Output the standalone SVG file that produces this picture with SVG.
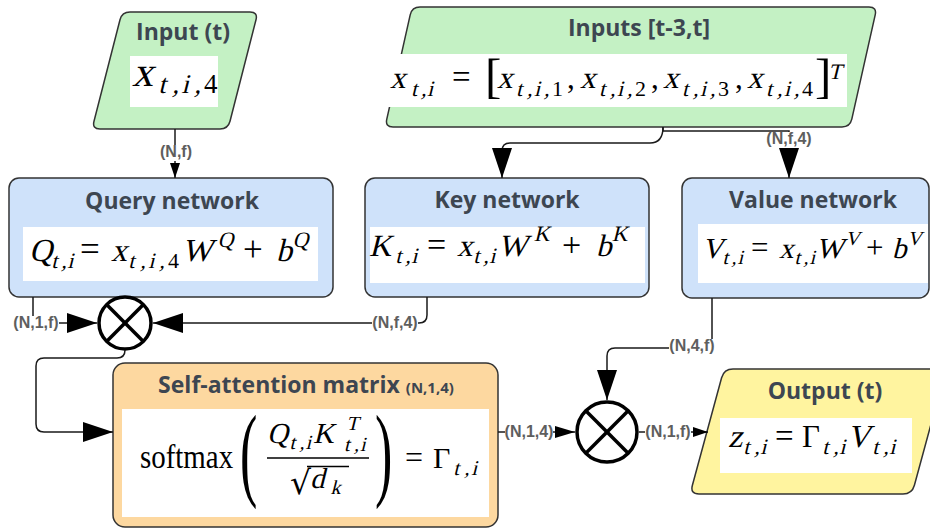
<svg xmlns="http://www.w3.org/2000/svg" width="930" height="529" viewBox="0 0 930 529">
  <style>
    .ttl{font-family:"Open Sans","Liberation Sans",Arial,sans-serif;font-weight:bold;font-size:23px;fill:#3d4651;text-anchor:middle}
    .lbl{font-family:"Liberation Sans",Arial,sans-serif;font-weight:bold;font-size:16px;fill:#5e5e5e;text-anchor:middle}
    .lbg{fill:#fff}
    .m{font-family:"Liberation Serif","DejaVu Serif","Times New Roman",serif;fill:#000}
    .in{fill:#c4f1c4;stroke:#333;stroke-width:1.5}
    .net{fill:#cfe2fa;stroke:#333;stroke-width:1.5}
    .att{fill:#fdd8a0;stroke:#333;stroke-width:1.5}
    .out{fill:#fff49f;stroke:#333;stroke-width:1.5}
    .wb{fill:#fff}
    .edge{fill:none;stroke:#1a1a1a;stroke-width:1.5}
    .op circle{fill:#fff;stroke:#000;stroke-width:3.5}
    .op line{stroke:#000;stroke-width:3.5}
  </style>
  <defs>
    <marker id="ah-big" markerUnits="userSpaceOnUse" markerWidth="30" markerHeight="20" refX="30" refY="10" orient="auto">
      <path d="M0,0 L30,10 L0,20 Z" fill="#000"/>
    </marker>
    <marker id="ah-mid" markerUnits="userSpaceOnUse" markerWidth="20" markerHeight="12" refX="20" refY="6" orient="auto">
      <path d="M0,0 L20,6 L0,12 Z" fill="#000"/>
    </marker>
    <marker id="ah-small" markerUnits="userSpaceOnUse" markerWidth="15" markerHeight="10" refX="15" refY="5" orient="auto">
      <path d="M0,0 L15,5 L0,10 Z" fill="#000"/>
    </marker>
  </defs>

  <!-- current input step -->
  <g id="input-t">
    <path class="in" d="M130,12 H250 Q258,12 256,19.7 L230,121.3 Q228,129 220,129 H100 Q92,129 94,121.3 L120,19.7 Q122,12 130,12 Z"/>
    <text class="ttl" x="183" y="40" font-size="22">Input (t)</text>
    <rect class="wb" x="130" y="56" width="88" height="51"/>
    <!-- math italics are slanted about the formula baseline -->
    <text class="m" transform="translate(0,86) skewX(-14)"><tspan x="132" y="0" font-size="42">x</tspan><tspan x="160 174 183 196" y="7" font-size="27">t,i,</tspan></text>
    <text class="m" x="204" y="93" font-size="27">4</text>
  </g>

  <!-- input window -->
  <g id="inputs-window">
    <path class="in" d="M420,7 H869 Q877,7 875.2,14.8 L851.8,119.2 Q850,127 842,127 H393 Q385,127 386.8,119.2 L410.2,14.8 Q412,7 420,7 Z"/>
    <text class="ttl" x="639" y="36" font-size="22">Inputs [t-3,t]</text>
    <rect class="wb" x="387" y="54" width="460" height="53"/>
    <text class="m" transform="translate(0,88) skewX(-14)">
      <tspan x="390" y="0" font-size="31">x</tspan><tspan x="413 423 429" y="8" font-size="22">t,i</tspan>
      <tspan x="497" y="0" font-size="31">x</tspan><tspan x="518 529 536 546" y="8" font-size="22">t,i,</tspan>
      <tspan x="580" y="0" font-size="31">x</tspan><tspan x="601 612 619 629" y="8" font-size="22">t,i,</tspan>
      <tspan x="663" y="0" font-size="31">x</tspan><tspan x="684 695 702 712" y="8" font-size="22">t,i,</tspan>
      <tspan x="747" y="0" font-size="31">x</tspan><tspan x="768 779 786 796" y="8" font-size="22">t,i,</tspan>
      <tspan x="826" y="-9" font-size="22">T</tspan>
    </text>
    <text class="m">
      <tspan x="452" y="88" font-size="33">=</tspan>
      <tspan x="485" y="92" font-size="49">[</tspan>
      <tspan x="552" y="96" font-size="22">1</tspan><tspan x="567" y="88" font-size="31">,</tspan>
      <tspan x="635" y="96" font-size="22">2</tspan><tspan x="651" y="88" font-size="31">,</tspan>
      <tspan x="718" y="96" font-size="22">3</tspan><tspan x="735" y="88" font-size="31">,</tspan>
      <tspan x="802" y="96" font-size="22">4</tspan>
      <tspan x="815" y="92" font-size="49">]</tspan>
    </text>
  </g>

  <!-- query projection -->
  <g id="query-network">
    <rect class="net" x="9" y="178" width="324" height="119" rx="10"/>
    <text class="ttl" x="172" y="209">Query network</text>
    <rect class="wb" x="23" y="227" width="295" height="54"/>
    <text class="m" transform="translate(0,261) skewX(-14)">
      <tspan x="29" y="0" font-size="32">Q</tspan><tspan x="53 63 69" y="7" font-size="22">t,i</tspan>
      <tspan x="111" y="0" font-size="32">x</tspan><tspan x="130 142 150 161" y="7" font-size="22">t,i,</tspan>
      <tspan x="182" y="0" font-size="32">W</tspan><tspan x="214" y="-14" font-size="22">Q</tspan>
      <tspan x="276" y="0" font-size="32">b</tspan><tspan x="289" y="-14" font-size="22">Q</tspan>
    </text>
    <text class="m">
      <tspan x="80" y="261" font-size="35">=</tspan>
      <tspan x="168" y="268" font-size="22">4</tspan>
      <tspan x="243" y="261" font-size="35">+</tspan>
    </text>
  </g>

  <!-- key projection -->
  <g id="key-network">
    <rect class="net" x="365" y="178" width="284" height="119" rx="10"/>
    <text class="ttl" x="507" y="208">Key network</text>
    <rect class="wb" x="370" y="227" width="275" height="56"/>
    <text class="m" transform="translate(0,256) skewX(-14)">
      <tspan x="369" y="0" font-size="31">K</tspan><tspan x="397 407 413" y="7" font-size="22">t,i</tspan>
      <tspan x="457" y="0" font-size="31">x</tspan><tspan x="475 485 491" y="7" font-size="22">t,i</tspan>
      <tspan x="498" y="0" font-size="31">W</tspan><tspan x="530" y="-15" font-size="22">K</tspan>
      <tspan x="596" y="0" font-size="31">b</tspan><tspan x="608" y="-15" font-size="22">K</tspan>
    </text>
    <text class="m">
      <tspan x="427" y="256" font-size="34">=</tspan>
      <tspan x="562" y="256" font-size="34">+</tspan>
    </text>
  </g>

  <!-- value projection -->
  <g id="value-network">
    <rect class="net" x="682" y="178" width="247" height="120" rx="10"/>
    <text class="ttl" x="813" y="208">Value network</text>
    <rect class="wb" x="698" y="224" width="230" height="59"/>
    <text class="m" transform="translate(0,258) skewX(-14)">
      <tspan x="702" y="0" font-size="29">V</tspan><tspan x="724 733 739" y="6" font-size="20">t,i</tspan>
      <tspan x="779" y="0" font-size="29">x</tspan><tspan x="796 805 811" y="6" font-size="20">t,i</tspan>
      <tspan x="816" y="0" font-size="29">W</tspan><tspan x="842" y="-13" font-size="20">V</tspan>
      <tspan x="892" y="0" font-size="29">b</tspan><tspan x="904" y="-13" font-size="20">V</tspan>
    </text>
    <text class="m">
      <tspan x="751" y="258" font-size="31">=</tspan>
      <tspan x="866" y="258" font-size="31">+</tspan>
    </text>
  </g>

  <!-- attention weights -->
  <g id="self-attention">
    <rect class="att" x="113" y="363" width="385" height="164" rx="12"/>
    <text class="ttl" x="306" y="393" font-size="25">Self-attention matrix <tspan font-size="15">(N,1,4)</tspan></text>
    <rect class="wb" x="122" y="409" width="367" height="108"/>
    <text class="m" transform="translate(140,468) scale(0.85,1)" font-size="34">softmax</text>
    <text class="m" transform="translate(240,487) scale(0.5,1)" font-size="104">(</text>
    <text class="m" transform="translate(375,487) scale(0.5,1)" font-size="104">)</text>
    <text class="m" transform="translate(0,443) skewX(-14)">
      <tspan x="267" y="0" font-size="29">Q</tspan><tspan x="291 301 307" y="6" font-size="20">t,i</tspan>
      <tspan x="313" y="0" font-size="29">K</tspan><tspan x="343" y="-13" font-size="20">T</tspan><tspan x="346 356 362" y="8" font-size="20">t,i</tspan>
    </text>
    <line x1="267" y1="458" x2="369" y2="458" stroke="#000" stroke-width="1.4"/>
    <text class="m" x="290" y="494" font-size="33" style="font-family:'DejaVu Serif',serif">√</text>
    <line x1="307" y1="466.5" x2="349" y2="466.5" stroke="#000" stroke-width="1.3"/>
    <text class="m" transform="translate(0,488) skewX(-14)"><tspan x="310" y="0" font-size="29">d</tspan><tspan x="332" y="6" font-size="20">k</tspan></text>
    <text class="m">
      <tspan x="405" y="468" font-size="32">=</tspan>
      <tspan x="433" y="468" font-size="30">Γ</tspan>
    </text>
    <text class="m" transform="translate(0,468) skewX(-14)"><tspan x="455 466 473" y="7" font-size="21">t,i</tspan></text>
  </g>

  <!-- output of the block -->
  <g id="output-t">
    <path class="out" d="M733,369 H937 Q946,369 943.6,377.7 L914.4,485.3 Q912,494 903,494 H699 Q690,494 692.4,485.3 L721.6,377.7 Q724,369 733,369 Z"/>
    <text class="ttl" x="825" y="399">Output (t)</text>
    <rect class="wb" x="720" y="418" width="192" height="55"/>
    <text class="m" transform="translate(0,447) skewX(-14)">
      <tspan x="728" y="0" font-size="32">z</tspan><tspan x="745 756 762" y="7" font-size="22">t,i</tspan>
      <tspan x="824 835 841" y="7" font-size="22">t,i</tspan>
      <tspan x="847" y="0" font-size="32">V</tspan><tspan x="874 885 891" y="7" font-size="22">t,i</tspan>
    </text>
    <text class="m">
      <tspan x="775" y="447" font-size="33">=</tspan>
      <tspan x="802" y="447" font-size="31">Γ</tspan>
    </text>
  </g>

  <!-- multiplication operators -->
  <g id="mul-qk" class="op">
    <circle cx="125" cy="323" r="26"/>
    <line x1="106.6" y1="304.6" x2="143.4" y2="341.4"/>
    <line x1="143.4" y1="304.6" x2="106.6" y2="341.4"/>
  </g>
  <g id="mul-av" class="op">
    <circle cx="607" cy="432" r="30"/>
    <line x1="585.8" y1="410.8" x2="628.2" y2="453.2"/>
    <line x1="628.2" y1="410.8" x2="585.8" y2="453.2"/>
  </g>

  <!-- connectors and their shape labels -->
  <g id="connectors">
    <path class="edge" d="M175,129 V178" marker-end="url(#ah-small)"/>
    <path class="edge" d="M663,127 Q663,143 650,143 H510 Q502,143 502,151 V178" marker-end="url(#ah-big)"/>
    <path class="edge" d="M663,127 V131 H789 V178" marker-end="url(#ah-big)"/>
    <path class="edge" d="M33,297 V323 H97" marker-end="url(#ah-big)"/>
    <path class="edge" d="M427,297 V315 Q427,323 419,323 H153" marker-end="url(#ah-big)"/>
    <path class="edge" d="M125,350 Q125,358 117,358 H44 Q36,358 36,366 V424 Q36,432 44,432 H113" marker-end="url(#ah-big)"/>
    <path class="edge" d="M498,432 H575" marker-end="url(#ah-mid)"/>
    <path class="edge" d="M712,298 V340 Q712,348 704,348 H615 Q607,348 607,356 V400" marker-end="url(#ah-big)"/>
    <path class="edge" d="M639,432 H708" marker-end="url(#ah-small)"/>

    <rect class="lbg" x="160" y="145" width="32" height="16"/>
    <text class="lbl" x="176" y="157">(N,f)</text>
    <rect class="lbg" x="766" y="132" width="46" height="16"/>
    <text class="lbl" x="789" y="144">(N,f,4)</text>
    <rect class="lbg" x="13" y="316" width="46" height="16"/>
    <text class="lbl" x="36" y="328">(N,1,f)</text>
    <rect class="lbg" x="372" y="316" width="46" height="16"/>
    <text class="lbl" x="395" y="328">(N,f,4)</text>
    <rect class="lbg" x="505" y="425" width="48" height="16"/>
    <text class="lbl" x="529" y="437">(N,1,4)</text>
    <rect class="lbg" x="669" y="339" width="46" height="16"/>
    <text class="lbl" x="692" y="351">(N,4,f)</text>
    <rect class="lbg" x="645" y="425" width="46" height="16"/>
    <text class="lbl" x="668" y="437">(N,1,f)</text>
  </g>
</svg>
